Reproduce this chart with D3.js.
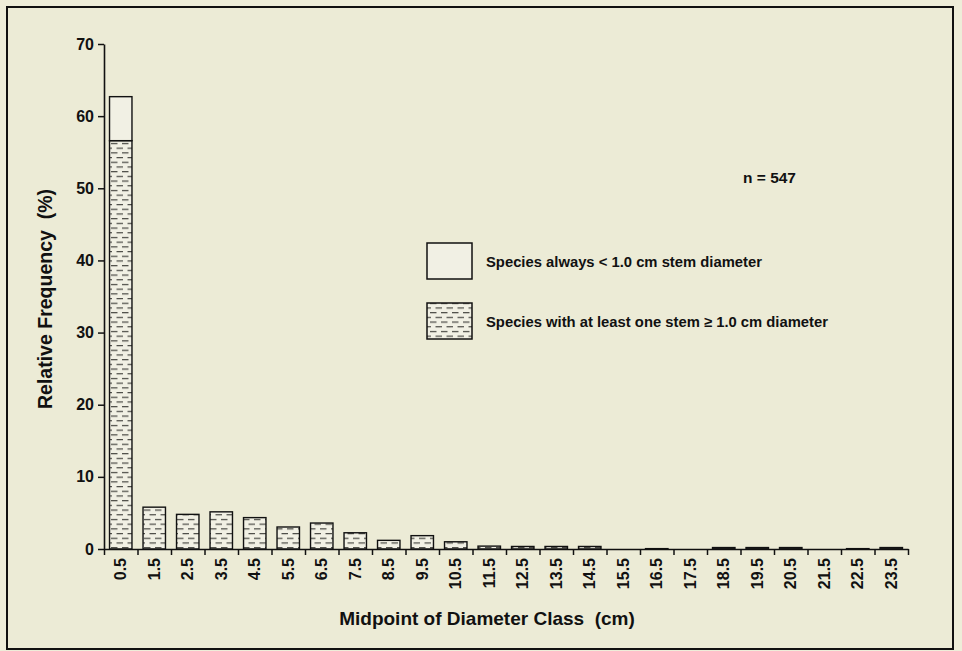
<!DOCTYPE html>
<html>
<head>
<meta charset="utf-8">
<script src="https://cdn.jsdelivr.net/npm/d3@7"></script>
<style>
  html, body { margin: 0; padding: 0; background: #eeedd9; }
  svg { display: block; }
  text { font-family: "Liberation Sans", Arial, Helvetica, sans-serif; fill: #111; }
</style>
</head>
<body>
<svg id="chart" width="962" height="651"></svg>
<script>
// Diameter classes (cm midpoints)
const classes = ["0.5","1.5","2.5","3.5","4.5","5.5","6.5","7.5","8.5","9.5","10.5","11.5",
                 "12.5","13.5","14.5","15.5","16.5","17.5","18.5","19.5","20.5","21.5","22.5","23.5"];
// Species with at least one stem >= 1.0 cm diameter (%)
const largeStem = [56.6, 5.8, 4.8, 5.15, 4.35, 3.05, 3.6, 2.25, 1.2, 1.85, 1.0, 0.4,
                   0.35, 0.35, 0.35, 0, 0.05, 0, 0.2, 0.2, 0.2, 0, 0.05, 0.2];
// Species always < 1.0 cm stem diameter (%)
const smallStem = [6.1, 0, 0, 0, 0, 0, 0, 0, 0, 0, 0, 0,
                   0, 0, 0, 0, 0, 0, 0, 0, 0, 0, 0, 0];
const yTicks = [0, 10, 20, 30, 40, 50, 60, 70];
const legendLabels = ["Species always < 1.0 cm stem diameter",
                      "Species with at least one stem \u2265 1.0 cm diameter"];
const sampleNote = "n = 547";

const svg = d3.select("#chart");

// Frame around the figure
svg.append("rect")
  .attr("x", 7).attr("y", 7).attr("width", 946).attr("height", 642)
  .attr("fill", "#ecebd6").attr("stroke", "#111").attr("stroke-width", 2);

// Dashed hatch used for the stem >= 1.0 cm series
const defs = svg.append("defs");
const pat = defs.append("pattern")
  .attr("id", "dash")
  .attr("patternUnits", "userSpaceOnUse")
  .attr("width", 11).attr("height", 9.4);
pat.append("rect").attr("width", 11).attr("height", 9.4).attr("fill", "#f1f0e4");
pat.append("line").attr("x1", 1).attr("x2", 7.5).attr("y1", 2.5).attr("y2", 2.5)
  .attr("stroke", "#4a4a45").attr("stroke-width", 1.2);
pat.append("line").attr("x1", 6.5).attr("x2", 11).attr("y1", 7.2).attr("y2", 7.2)
  .attr("stroke", "#4a4a45").attr("stroke-width", 1.2);
pat.append("line").attr("x1", 0).attr("x2", 2).attr("y1", 7.2).attr("y2", 7.2)
  .attr("stroke", "#4a4a45").attr("stroke-width", 1.2);

const x0 = 104, x1 = 908, yBase = 549, yTop = 44;

const x = d3.scaleBand().domain(classes).range([x0, x1])
  .paddingInner(0.33).paddingOuter(0.165);
const xEdge = d3.scaleLinear().domain([0, classes.length]).range([x0, x1]);
const y = d3.scaleLinear().domain([0, 70]).range([yBase, yTop]);

const rows = classes.map((c, i) => ({ c, lo: largeStem[i], hi: smallStem[i] }));

// Lower (hatched) segments
svg.append("g").selectAll("rect").data(rows.filter(d => d.lo > 0)).join("rect")
  .attr("x", d => x(d.c))
  .attr("width", x.bandwidth())
  .attr("y", d => y(d.lo))
  .attr("height", d => y(0) - y(d.lo))
  .attr("fill", "url(#dash)")
  .attr("stroke", "#111").attr("stroke-width", 1.4);

// Upper (open) segments
svg.append("g").selectAll("rect").data(rows.filter(d => d.hi > 0)).join("rect")
  .attr("x", d => x(d.c))
  .attr("width", x.bandwidth())
  .attr("y", d => y(d.lo + d.hi))
  .attr("height", d => y(d.lo) - y(d.lo + d.hi))
  .attr("fill", "#f1f0e4")
  .attr("stroke", "#111").attr("stroke-width", 1.4);

// Y axis
const yAxis = svg.append("g")
  .attr("transform", `translate(${x0},0)`)
  .call(d3.axisLeft(y).tickValues(yTicks).tickSize(6).tickSizeOuter(0).tickPadding(4));
yAxis.select(".domain").attr("stroke", "#111").attr("stroke-width", 1.6);
yAxis.selectAll(".tick line").attr("stroke", "#111").attr("stroke-width", 1.5);
yAxis.selectAll(".tick text")
  .attr("font-size", 16).attr("font-weight", "bold").attr("fill", "#111")
  .attr("font-family", "Liberation Sans, Arial, sans-serif");

// X axis: ticks at class boundaries
const xAxis = svg.append("g")
  .attr("transform", `translate(0,${yBase})`)
  .call(d3.axisBottom(xEdge).tickValues(d3.range(0, classes.length + 1))
    .tickSize(6).tickSizeOuter(0).tickFormat(""));
xAxis.select(".domain").attr("stroke", "#111").attr("stroke-width", 1.6);
xAxis.selectAll(".tick line").attr("stroke", "#111").attr("stroke-width", 1.5);

// X labels, rotated, centred on each class
svg.append("g").selectAll("text").data(classes).join("text")
  .attr("transform", d => `translate(${x(d) + x.bandwidth() / 2 + 5.5},${yBase + 9}) rotate(-90)`)
  .attr("text-anchor", "end")
  .attr("font-size", 16).attr("font-weight", "bold")
  .text(d => d);

// Axis titles
svg.append("text")
  .attr("x", 487).attr("y", 625)
  .attr("text-anchor", "middle")
  .attr("font-size", 19).attr("font-weight", "bold")
  .attr("xml:space", "preserve")
  .text("Midpoint of Diameter Class  (cm)");

svg.append("text")
  .attr("transform", "translate(52,299) rotate(-90)")
  .attr("text-anchor", "middle")
  .attr("font-size", 19.5).attr("font-weight", "bold")
  .attr("xml:space", "preserve")
  .text("Relative Frequency  (%)");

// Legend
const legend = svg.append("g");
const legendFills = ["#f1f0e4", "url(#dash)"];
const legendY = [243, 303];
legendLabels.forEach((lab, i) => {
  legend.append("rect")
    .attr("x", 427).attr("y", legendY[i]).attr("width", 45).attr("height", 36)
    .attr("fill", legendFills[i]).attr("stroke", "#111").attr("stroke-width", 1.5);
  legend.append("text")
    .attr("x", 486).attr("y", legendY[i] + 24)
    .attr("font-size", 14.8).attr("font-weight", "bold")
    .attr("fill", "#222")
    .text(lab);
});

// Sample size
svg.append("text")
  .attr("x", 743).attr("y", 183)
  .attr("font-size", 15.5).attr("font-weight", "bold")
  .text(sampleNote);
</script>
</body>
</html>
